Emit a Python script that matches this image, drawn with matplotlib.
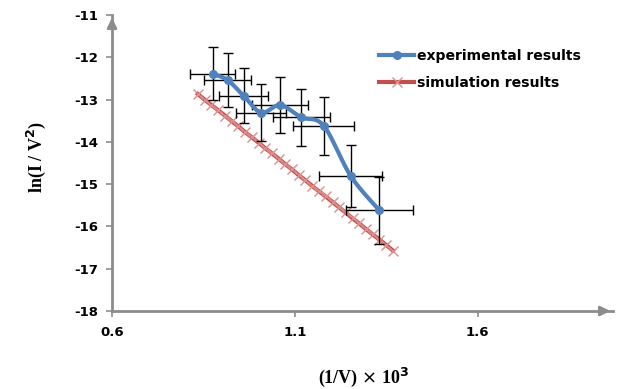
import numpy as np
import matplotlib
matplotlib.use("Agg")
import matplotlib.pyplot as plt
from matplotlib.lines import Line2D

# Experimental data
exp_x = [0.875, 0.916, 0.960, 1.008, 1.060, 1.118, 1.179, 1.253, 1.331]
exp_y = [-12.39, -12.54, -12.91, -13.31, -13.13, -13.42, -13.62, -14.81, -15.62]
exp_yerr = [0.63, 0.64, 0.65, 0.67, 0.66, 0.67, 0.68, 0.74, 0.79]
exp_xerr = [0.062, 0.065, 0.067, 0.068, 0.077, 0.079, 0.083, 0.086, 0.092]

# Simulation data
sim_x = [0.835, 0.853, 0.872, 0.890, 0.909, 0.927, 0.945, 0.964, 0.982, 1.001,
         1.019, 1.037, 1.056, 1.074, 1.092, 1.111, 1.129, 1.147, 1.166, 1.184,
         1.203, 1.221, 1.239, 1.258, 1.276, 1.294, 1.313, 1.331, 1.350, 1.368]
sim_y = [-12.87, -13.00, -13.13, -13.25, -13.38, -13.51, -13.63, -13.77, -13.89, -14.02,
         -14.15, -14.27, -14.40, -14.53, -14.65, -14.79, -14.91, -15.04, -15.17, -15.29,
         -15.42, -15.55, -15.67, -15.81, -15.93, -16.06, -16.19, -16.31, -16.44, -16.57]

x_ticks = [0.6, 1.1, 1.6]
y_ticks = [-18, -17, -16, -15, -14, -13, -12, -11]


def catmull_rom(xs, ys, n=20):
    xs = np.asarray(xs, float); ys = np.asarray(ys, float)
    P = np.column_stack([xs, ys])
    P = np.vstack([P[0], P, P[-1]])
    out = []
    for i in range(1, len(P) - 2):
        p0, p1, p2, p3 = P[i - 1], P[i], P[i + 1], P[i + 2]
        t = np.linspace(0, 1, n)[:, None]
        seg = 0.5 * ((2 * p1) + (-p0 + p2) * t + (2 * p0 - 5 * p1 + 4 * p2 - p3) * t ** 2
                     + (-p0 + 3 * p1 - 3 * p2 + p3) * t ** 3)
        out.append(seg if i == 1 else seg[1:])
    out = np.vstack(out)
    return out[:, 0], out[:, 1]


fig = plt.figure(figsize=(6.19, 3.89), dpi=100)
ax = fig.add_axes([112 / 619, 1 - 311 / 389, (613 - 112) / 619, (311 - 15) / 389])
ax.set_xlim(0.6, 1.97)
ax.set_ylim(-18, -11)

blue = "#4F81BD"
red = "#C0504D"
gray = "#8C8C8C"
pink = "#DE8E8C"

# simulation
ax.plot(sim_x, sim_y, color=red, lw=3, zorder=2, marker='x', markersize=7,
        markeredgecolor=pink, markeredgewidth=1.0)

# error bars
ax.errorbar(exp_x, exp_y, xerr=exp_xerr, yerr=exp_yerr, fmt='none', ecolor='black',
            elinewidth=1.0, capsize=3.5, capthick=1.0, zorder=3)

# experimental smooth line
sx, sy = catmull_rom(exp_x, exp_y)
ax.plot(sx, sy, color=blue, lw=3, zorder=4)
ax.plot(exp_x, exp_y, 'o', color=blue, markersize=5.5, zorder=5)

# legend
h1 = Line2D([], [], color=blue, lw=3, marker='o', markersize=5.5)
h2 = Line2D([], [], color=red, lw=3, marker='x', markersize=7,
            markeredgecolor=pink, markeredgewidth=1.0)
leg = ax.legend([h1, h2], ["experimental results", "simulation results"],
                loc='upper left', bbox_to_anchor=(0.533, 0.885), frameon=False,
                prop={'weight': 'bold', 'size': 10.1}, handlelength=2.5,
                handletextpad=0.2, labelspacing=0.95, borderaxespad=0,
                borderpad=0)

# spines / axes
for s in ['top', 'right']:
    ax.spines[s].set_visible(False)
for s in ['left', 'bottom']:
    ax.spines[s].set_color(gray)
    ax.spines[s].set_linewidth(2)

ax.annotate('', xy=(0, 1.0), xytext=(0, 0.95), xycoords='axes fraction',
            arrowprops=dict(arrowstyle='-|>', color=gray, lw=2, mutation_scale=14))
ax.annotate('', xy=(1.0, 0), xytext=(0.97, 0), xycoords='axes fraction',
            arrowprops=dict(arrowstyle='-|>', color=gray, lw=2, mutation_scale=14))

ax.set_xticks(x_ticks)
ax.set_yticks(y_ticks)
ax.set_xticklabels([f"{v:.1f}" for v in x_ticks])
ax.set_yticklabels([str(v) for v in y_ticks])
ax.tick_params(axis='both', colors=gray, length=4, width=1.2, direction='out')
for lab in ax.get_xticklabels() + ax.get_yticklabels():
    lab.set_color('black')
    lab.set_fontweight('bold')
    lab.set_fontsize(9.5)
ax.tick_params(axis='y', pad=6)
ax.tick_params(axis='x', pad=7)

fig.text(36 / 619, 1 - 157 / 389, r"ln(I / V$^{\mathbf{2}}$)", rotation=90,
         ha='center', va='center', family='Liberation Serif', fontweight='bold',
         fontsize=13)
fig.text(364 / 619, 1 - 377 / 389, r"(1/V) $\times$ 10$^{\mathbf{3}}$",
         ha='center', va='center', family='Liberation Serif', fontweight='bold',
         fontsize=13)

fig.savefig("out.png", dpi=100)
